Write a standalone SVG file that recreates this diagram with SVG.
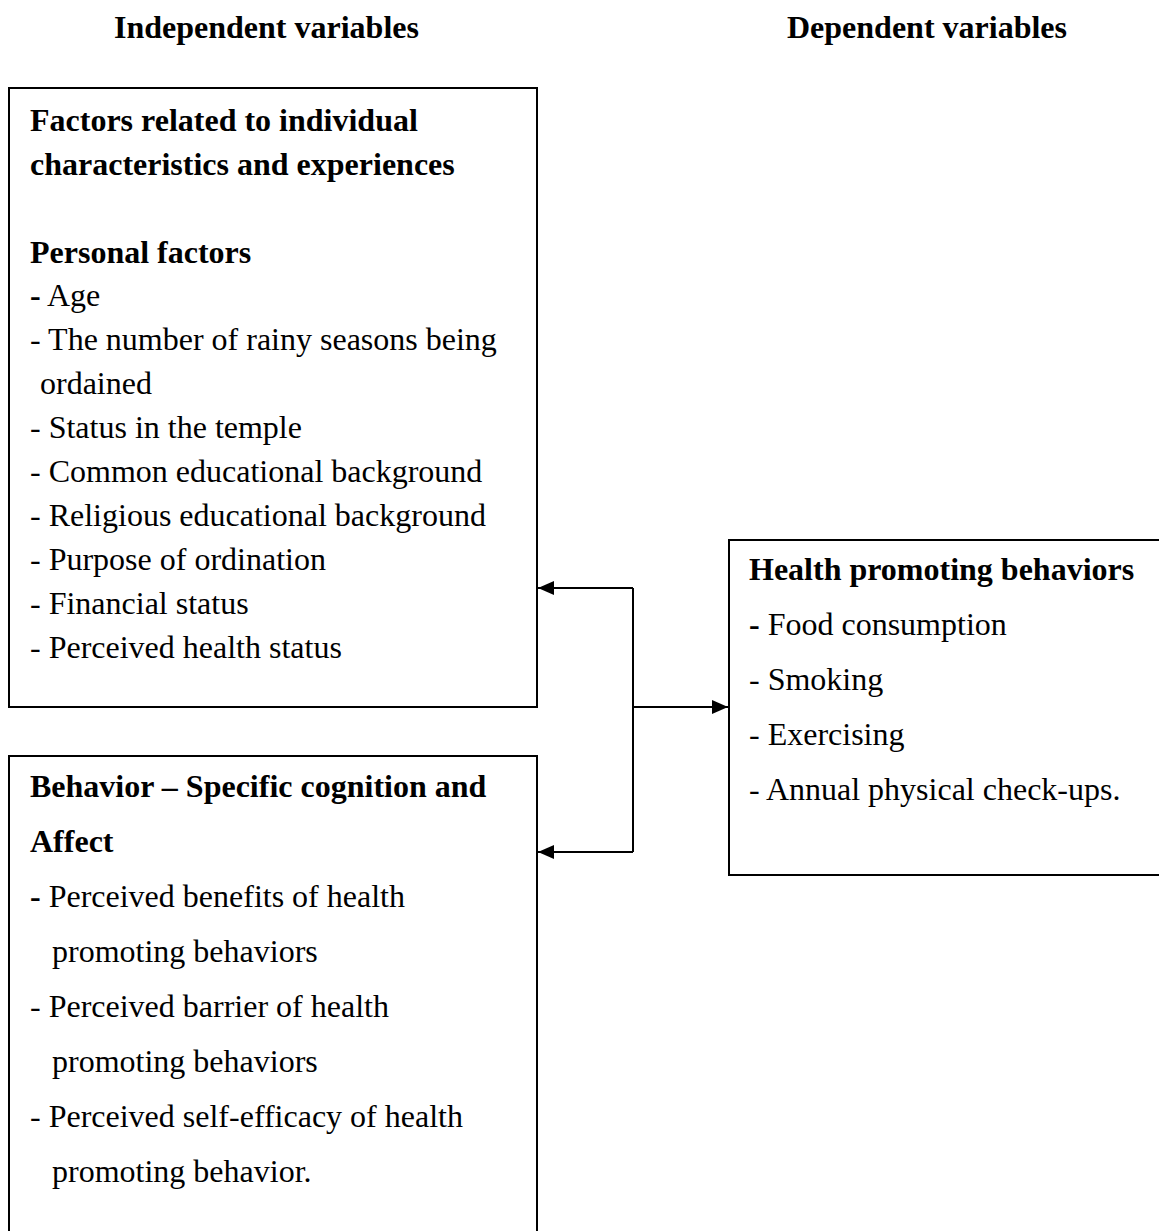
<svg xmlns="http://www.w3.org/2000/svg" width="1159" height="1231" viewBox="0 0 1159 1231">
<defs>
<style>
text{font-family:"Liberation Serif","Times New Roman",serif;font-size:32px;fill:#000}
.b{font-weight:bold}
.box{fill:#fff;stroke:#000;stroke-width:2}
.ln{fill:none;stroke:#000;stroke-width:2}
</style>
<marker id="ah" viewBox="0 0 16 14" refX="16" refY="7" markerWidth="16" markerHeight="14" markerUnits="userSpaceOnUse" orient="auto">
<path d="M0,0 L16,7 L0,14 Z" fill="#000"/>
</marker>
</defs>
<rect width="1159" height="1231" fill="#fff"/>
<g id="headers">
<text class="b" x="114" y="38">Independent variables</text>
<text class="b" x="787" y="38">Dependent variables</text>
</g>
<g id="connectors">
<path class="ln" d="M633,588 V852"/>
<path class="ln" d="M633,588 H538" marker-end="url(#ah)"/>
<path class="ln" d="M633,852 H538" marker-end="url(#ah)"/>
<path class="ln" d="M633,707 H728" marker-end="url(#ah)"/>
</g>
<g id="node-individual">
<rect class="box" x="9" y="88" width="528" height="619"/>
<text class="b" x="30" y="131">Factors related to individual</text>
<text class="b" x="30" y="175">characteristics and experiences</text>
<text class="b" x="30" y="263">Personal factors</text>
<text x="30" y="306"><tspan class="b">-</tspan> Age</text>
<text x="30" y="350">- The number of rainy seasons being</text>
<text x="40" y="394">ordained</text>
<text x="30" y="438">- Status in the temple</text>
<text x="30" y="482">- Common educational background</text>
<text x="30" y="526">- Religious educational background</text>
<text x="30" y="570">- Purpose of ordination</text>
<text x="30" y="614">- Financial status</text>
<text x="30" y="658">- Perceived health status</text>
</g>
<g id="node-cognition">
<rect class="box" x="9" y="756" width="528" height="490"/>
<text class="b" x="30" y="797">Behavior – Specific cognition and</text>
<text class="b" x="30" y="852">Affect</text>
<text x="30" y="907"><tspan class="b">-</tspan> Perceived benefits of health</text>
<text x="52" y="962">promoting behaviors</text>
<text x="30" y="1017">- Perceived barrier of health</text>
<text x="52" y="1072">promoting behaviors</text>
<text x="30" y="1127">- Perceived self-efficacy of health</text>
<text x="52" y="1182">promoting behavior.</text>
</g>
<g id="node-health">
<rect class="box" x="729" y="540" width="450" height="335"/>
<text class="b" x="749" y="580">Health promoting behaviors</text>
<text x="749" y="635"><tspan class="b">-</tspan> Food consumption</text>
<text x="749" y="690">- Smoking</text>
<text x="749" y="745">- Exercising</text>
<text x="749" y="800">- Annual physical check-ups.</text>
</g>
</svg>
